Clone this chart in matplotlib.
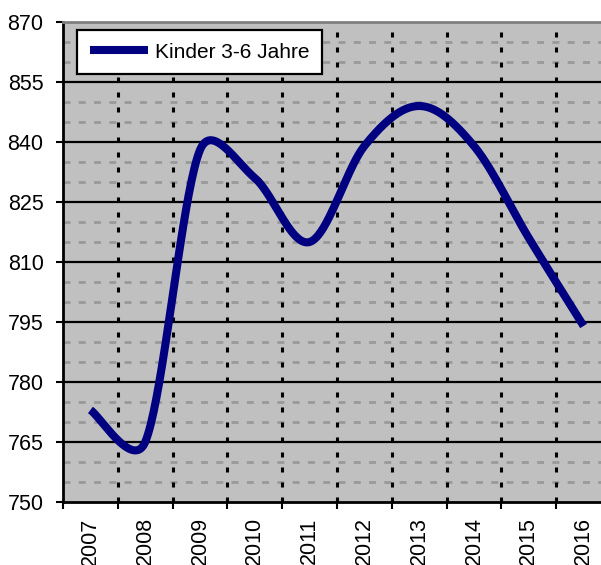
import numpy as np
import matplotlib
matplotlib.use("Agg")
import matplotlib.pyplot as plt

plt.rcParams['font.family'] = ['Liberation Sans', 'DejaVu Sans']
plt.rcParams['lines.scale_dashes'] = False

# Kinder 3-6 Jahre, Anzahl je Jahr
years = ["2007", "2008", "2009", "2010", "2011", "2012", "2013", "2014", "2015", "2016"]
kinder = [773, 765, 838, 831, 815, 839, 849, 839, 816, 794]
series_label = "Kinder 3-6 Jahre"

y_min, y_max, y_step, y_minor = 750, 870, 15, 5

# axes box in pixels
ax_left, ax_bottom, ax_w, ax_h = 63, 63, 548, 480


def smooth(xs, ys, sx, sy, n=40):
    # bezier "smoothed line": control points from the neighbours, limited to
    # half the segment length (distances measured in screen pixels)
    p = np.column_stack([np.asarray(xs, float) * sx, np.asarray(ys, float) * sy])
    p = np.vstack([p[0], p, p[-1]])
    t = np.linspace(0, 1, n)[:, None]
    out = []
    for i in range(1, len(p) - 2):
        p0, p1, p2, p3 = p[i - 1], p[i], p[i + 1], p[i + 2]
        d02 = np.hypot(*(p2 - p0))
        d12 = np.hypot(*(p2 - p1))
        d13 = np.hypot(*(p3 - p1))
        f1 = 1 / 6 if d02 / 6 < d12 / 2 else d12 / (2 * d02)
        f2 = 1 / 6 if d13 / 6 < d12 / 2 else d12 / (2 * d13)
        c1 = p1 + (p2 - p0) * f1
        c2 = p2 - (p3 - p1) * f2
        b = (1 - t) ** 3 * p1 + 3 * (1 - t) ** 2 * t * c1 + 3 * (1 - t) * t ** 2 * c2 + t ** 3 * p2
        out.append(b)
    out = np.vstack(out)
    return out[:, 0] / sx, out[:, 1] / sy


fig = plt.figure(figsize=(6.01, 5.65), dpi=100)
ax = fig.add_axes([ax_left / 601, ax_bottom / 565, ax_w / 601, ax_h / 565])
ax.set_facecolor("#C0C0C0")

x = np.arange(len(years))
px_per_x = ax_w / len(years)
px_per_y = ax_h / (y_max - y_min)
cx, cy = smooth(x, kinder, px_per_x, px_per_y)
ax.plot(cx, cy, color="#000080", lw=5.8, solid_capstyle="butt",
        label=series_label, zorder=5)

ax.set_xlim(-0.5, len(years) - 0.5)
ax.set_ylim(y_min, y_max)

# y grid: solid major lines, grey dashed minor lines
ax.set_yticks(np.arange(y_min, y_max + 1, y_step))
for v in np.arange(y_min, y_max + 1, y_minor):
    if v % y_step:
        ax.axhline(v, color="#999999", lw=2, ls=(0, (5, 6)), zorder=1)
for v in np.arange(y_min + y_step, y_max, y_step):
    ax.axhline(v, color="black", lw=1.6, zorder=2)

# category boundaries: black dashed verticals
for b in np.arange(0.5, len(years) - 0.5, 1):
    ax.axvline(b, color="black", lw=2.2, ls=(0, (3.6, 7.2)), zorder=3)

ax.set_xticks(np.arange(-0.5, len(years) - 0.4, 1))
ax.set_xticklabels([])
ax.set_xticks(x, minor=True)
ax.set_xticklabels(years, minor=True, rotation=90, fontsize=15.5)
ax.tick_params(axis="x", which="major", direction="out", length=5, width=1.5)
ax.tick_params(axis="x", which="minor", length=0, pad=11)
ax.tick_params(axis="y", which="major", direction="out", length=5, width=1.5,
               labelsize=15.5, pad=9)

for s in ["left", "bottom"]:
    ax.spines[s].set_color("black")
    ax.spines[s].set_linewidth(2)
ax.spines["top"].set_color("#808080")
ax.spines["top"].set_linewidth(2)
ax.spines["right"].set_visible(False)

leg = ax.legend(loc="upper left", bbox_to_anchor=(14 / ax_w, 1 - 8 / ax_h),
                borderaxespad=0, fancybox=False, framealpha=1, edgecolor="black",
                fontsize=15, handlelength=2.8, handletextpad=0.35, borderpad=0.6)
leg.get_frame().set_linewidth(1.6)
leg.set_zorder(10)

fig.savefig("out.png", dpi=100)
